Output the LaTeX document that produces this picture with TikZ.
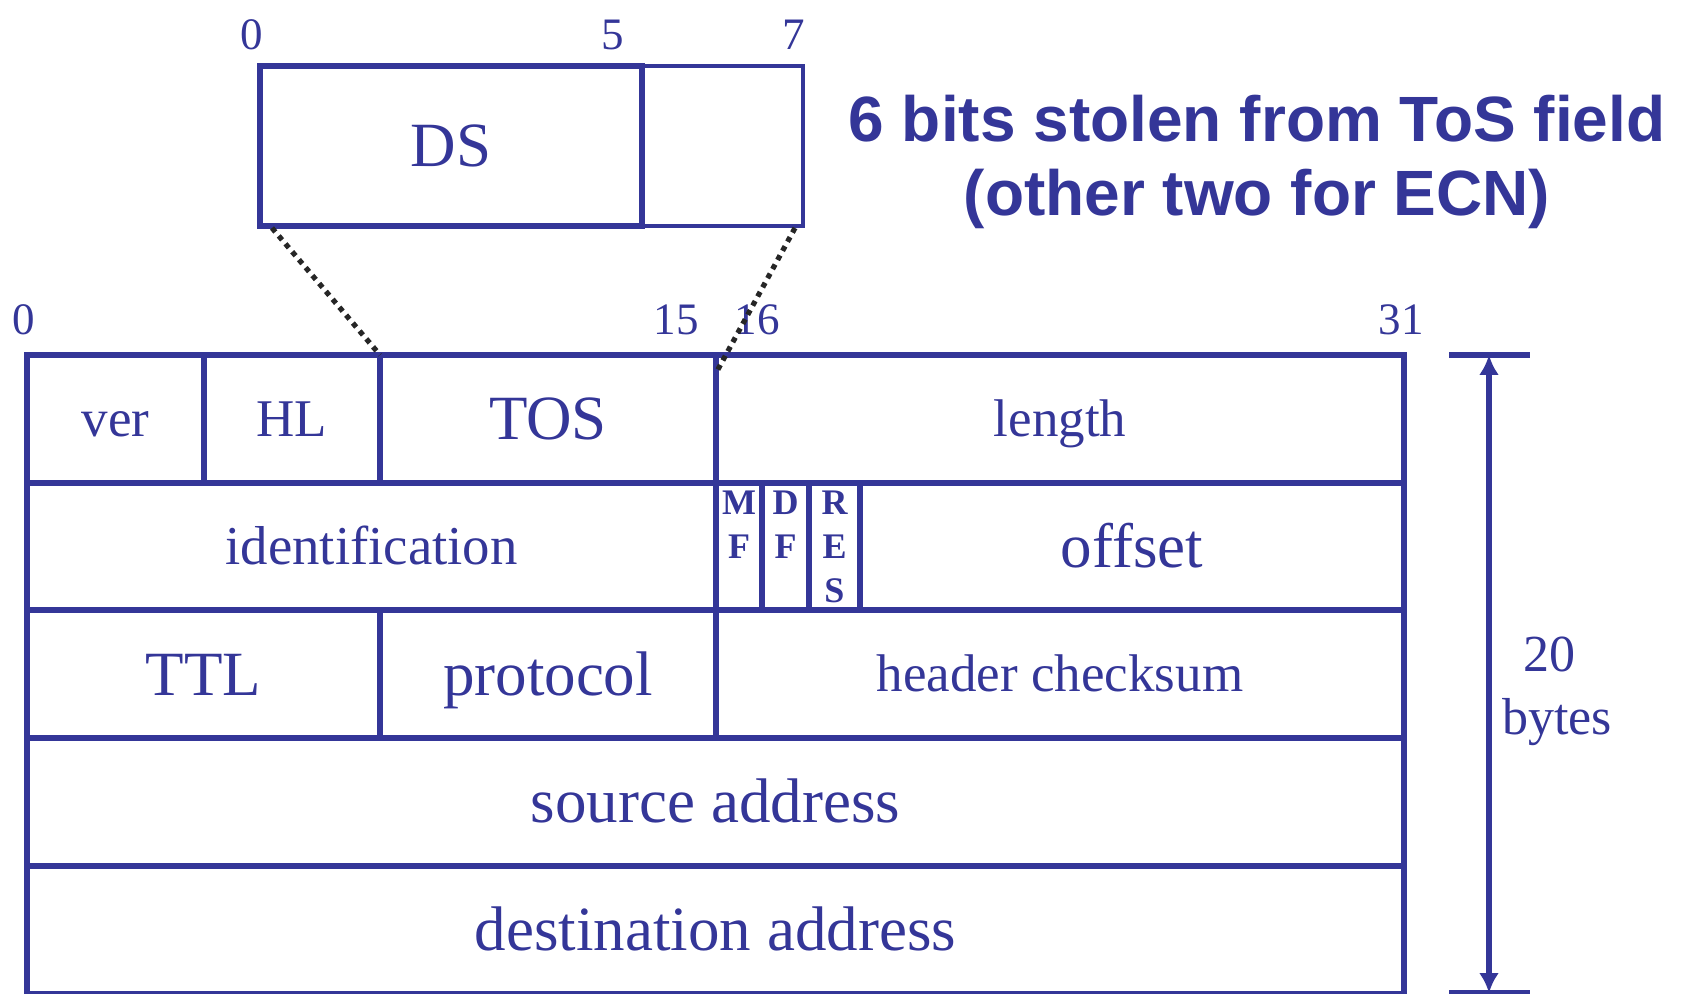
\documentclass[tikz,border=0pt]{standalone}
\usepackage{fontspec}
\setmainfont{Liberation Serif}
\setsansfont{Liberation Sans}
\usepackage{xcolor}
\usetikzlibrary{positioning, arrows.meta}
\definecolor{hdrblue}{RGB}{52,54,152}
\tikzstyle{field}=[draw=hdrblue,line width=3pt,rectangle,inner sep=0pt,outer sep=0pt,minimum height=63.85pt,text=hdrblue]
\tikzstyle{smalltext}=[font=\fontsize{26.5}{30}\selectfont,text height=17.5pt,text depth=0pt]
\tikzstyle{bigtext}=[font=\fontsize{31.5}{36}\selectfont,text height=21pt,text depth=0pt]
\tikzstyle{flag}=[draw=hdrblue,line width=3pt,rectangle,inner sep=0pt,outer sep=0pt,minimum height=63.85pt,align=center,text=hdrblue,font=\fontsize{18}{22}\selectfont\bfseries]
\tikzstyle{bitno}=[text=hdrblue,anchor=base,inner sep=0pt,font=\fontsize{22.5}{27}\selectfont]
\tikzstyle{zoomline}=[line width=2.6pt,dash pattern=on 2.6pt off 2.6pt,draw=black!85]

\begin{document}
\begin{tikzpicture}[x=0.5pt,y=-0.5pt,>=latex]
    \useasboundingbox (0,0) rectangle (1683,994);

    % the ToS byte, blown up
    \node[field, bigtext, anchor=north west, minimum width=191pt, minimum height=80pt] (ds) at (260,66) {DS};
    \node[field, right=0pt of ds, minimum width=80.5pt, minimum height=80pt, line width=2.2pt] (ecn) {};
    \node[bitno] (d0) at (252,50) {0};
    \node[bitno] (d5) at (613,50) {5};
    \node[bitno] (d7) at (794,50) {7};

    \node[text=hdrblue, align=center, font=\fontsize{32}{37}\selectfont\sffamily\bfseries] (note) at (1257,162) {6 bits stolen from ToS field\\(other two for ECN)};

    % IPv4 header
    \node[field, smalltext, anchor=north west, minimum width=88.5pt] (ver) at (27,355) {ver};
    \node[field, smalltext, right=0pt of ver, minimum width=88pt] (hl) {HL};
    \node[field, bigtext, right=0pt of hl, minimum width=168pt] (tos) {TOS};
    \node[field, smalltext, right=0pt of tos, minimum width=344pt] (length) {length};

    \node[field, anchor=north west, minimum width=344.5pt, font=\fontsize{27.4}{32}\selectfont, text height=18pt, text depth=0pt] (ident) at (ver.south west) {identification};
    \node[flag, right=0pt of ident, minimum width=23pt] (mf) {M\\F\\\vphantom{S}};
    \node[flag, right=0pt of mf, minimum width=23.5pt] (df) {D\\F\\\vphantom{S}};
    \node[flag, right=0pt of df, minimum width=25.5pt] (res) {R\\E\\S};
    \node[field, bigtext, right=0pt of res, minimum width=272pt] (offset) {offset};

    \node[field, bigtext, anchor=north west, minimum width=176.5pt] (ttl) at (ident.south west) {TTL};
    \node[field, bigtext, right=0pt of ttl, minimum width=168pt] (proto) {protocol};
    \node[field, smalltext, right=0pt of proto, minimum width=344pt] (cksum) {header checksum};

    \node[field, bigtext, anchor=north west, minimum width=688.5pt] (src) at (ttl.south west) {source address};
    \node[field, bigtext, below=0pt of src, minimum width=688.5pt] (dst) {destination address};

    \node[bitno] (b0) at (24,335) {0};
    \node[bitno] (b15) at (676,335) {15};
    \node[bitno] (b16) at (757,335) {16};
    \node[bitno] (b31) at (1401,335) {31};

    \draw[zoomline] ([shift={(12,2)}]ds.south west) -- (tos.north west);
    \draw[zoomline] ([shift={(-8,2)}]ecn.south east) -- ([shift={(0,18)}]length.north west);

    % size of the header
    \coordinate (dimtop) at (1489,355);
    \coordinate (dimbot) at (1489,993);
    \draw[hdrblue, line width=3pt] ([shift={(-40,0)}]dimtop) -- ([shift={(41,0)}]dimtop);
    \draw[hdrblue, line width=3pt] ([shift={(-40,0)}]dimbot) -- ([shift={(41,0)}]dimbot);
    \draw[hdrblue, line width=3pt, {Latex[length=10pt,width=10pt]}-{Latex[length=10pt,width=10pt]}] (dimtop) -- (dimbot);
    \node[text=hdrblue, align=center, font=\fontsize{26}{31.5}\selectfont] (size) at (1557,691) {20\hspace*{8pt}\\bytes};
\end{tikzpicture}
\end{document}
